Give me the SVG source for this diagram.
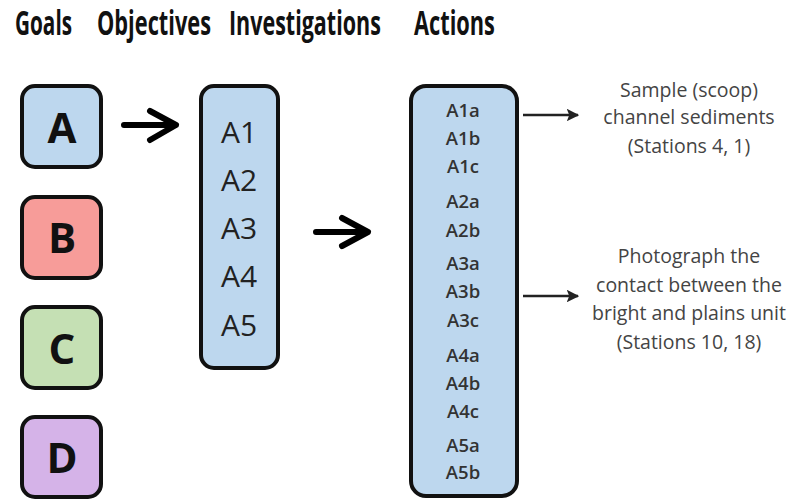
<svg xmlns="http://www.w3.org/2000/svg" width="793" height="499" viewBox="0 0 793 499">
<style>
.title{font-family:"Open Sans","Liberation Sans",sans-serif;font-weight:700;font-size:34px;fill:#111}
.box{stroke:#111;stroke-width:4}
.goal{font-family:"Open Sans","Liberation Sans",sans-serif;font-weight:700;font-size:42px;fill:#111;text-anchor:middle}
.obj{font-family:"Open Sans","Liberation Sans",sans-serif;font-size:30px;fill:#222;text-anchor:middle}
.inv{font-family:"Open Sans","Liberation Sans",sans-serif;font-weight:600;font-size:18.5px;fill:#333;text-anchor:middle}
.act{font-family:"Open Sans","Liberation Sans",sans-serif;font-size:19.5px;fill:#444;text-anchor:middle}
.big{stroke:#000;stroke-width:6;fill:none;stroke-linecap:round;stroke-linejoin:round}
.thin{stroke:#222;stroke-width:2.5;fill:none}
</style>
<defs>
<marker id="ah" viewBox="0 0 10 10" refX="9" refY="5" markerWidth="5" markerHeight="5" orient="auto" markerUnits="strokeWidth">
<path d="M0,0 L10,5 L0,10 L2,5 Z" fill="#222"/>
</marker>
</defs>
<g id="titles">
<text class="title" transform="translate(15,35) scale(0.63,1)" textLength="90.5" lengthAdjust="spacingAndGlyphs">Goals</text>
<text class="title" transform="translate(97,35) scale(0.63,1)" textLength="181" lengthAdjust="spacingAndGlyphs">Objectives</text>
<text class="title" transform="translate(229,35) scale(0.63,1)" textLength="241" lengthAdjust="spacingAndGlyphs">Investigations</text>
<text class="title" transform="translate(414,35) scale(0.63,1)" textLength="128.5" lengthAdjust="spacingAndGlyphs">Actions</text>
</g>
<g id="goal-A"><rect class="box" x="22" y="86" width="79" height="81" rx="13" fill="#bdd7ee"/><text class="goal" x="62" y="143">A</text></g>
<g id="goal-B"><rect class="box" x="22" y="197" width="79" height="81" rx="13" fill="#f79c99"/><text class="goal" x="62" y="253">B</text></g>
<g id="goal-C"><rect class="box" x="22" y="307" width="79" height="81" rx="13" fill="#c5e0b4"/><text class="goal" x="62" y="364">C</text></g>
<g id="goal-D"><rect class="box" x="22" y="417" width="79" height="80" rx="13" fill="#d5b3e8"/><text class="goal" x="62" y="473">D</text></g>
<g id="objectives">
<rect class="box" x="201" y="86" width="77" height="282" rx="13" fill="#bdd7ee"/>
<text class="obj" x="239" y="143">A1</text>
<text class="obj" x="239" y="191">A2</text>
<text class="obj" x="239" y="239">A3</text>
<text class="obj" x="239" y="287">A4</text>
<text class="obj" x="239" y="336">A5</text>
</g>
<g id="investigations">
<rect class="box" x="411" y="86" width="106" height="410" rx="15" fill="#bdd7ee"/>
<text class="inv" x="463" y="117">A1a</text>
<text class="inv" x="463" y="145">A1b</text>
<text class="inv" x="463" y="173">A1c</text>
<text class="inv" x="463" y="208">A2a</text>
<text class="inv" x="463" y="237">A2b</text>
<text class="inv" x="463" y="270">A3a</text>
<text class="inv" x="463" y="298">A3b</text>
<text class="inv" x="463" y="327">A3c</text>
<text class="inv" x="463" y="362">A4a</text>
<text class="inv" x="463" y="390">A4b</text>
<text class="inv" x="463" y="418">A4c</text>
<text class="inv" x="463" y="452">A5a</text>
<text class="inv" x="463" y="479">A5b</text>
</g>
<g id="action-1">
<text class="act" x="689" y="97">Sample (scoop)</text>
<text class="act" x="689" y="124">channel sediments</text>
<text class="act" x="689" y="153">(Stations 4, 1)</text>
</g>
<g id="action-2">
<text class="act" x="689" y="263">Photograph the</text>
<text class="act" x="689" y="292">contact between the</text>
<text class="act" x="689" y="320">bright and plains unit</text>
<text class="act" x="689" y="349">(Stations 10, 18)</text>
</g>
<g id="connectors">
<path class="big" d="M124,125 H175 M150,111 L176,125 L150,140"/>
<path class="big" d="M316,232 H367 M342,218 L368,232 L342,246"/>
<line class="thin" x1="523" y1="115" x2="578" y2="115" marker-end="url(#ah)"/>
<line class="thin" x1="523" y1="296" x2="578" y2="296" marker-end="url(#ah)"/>
</g>
</svg>
